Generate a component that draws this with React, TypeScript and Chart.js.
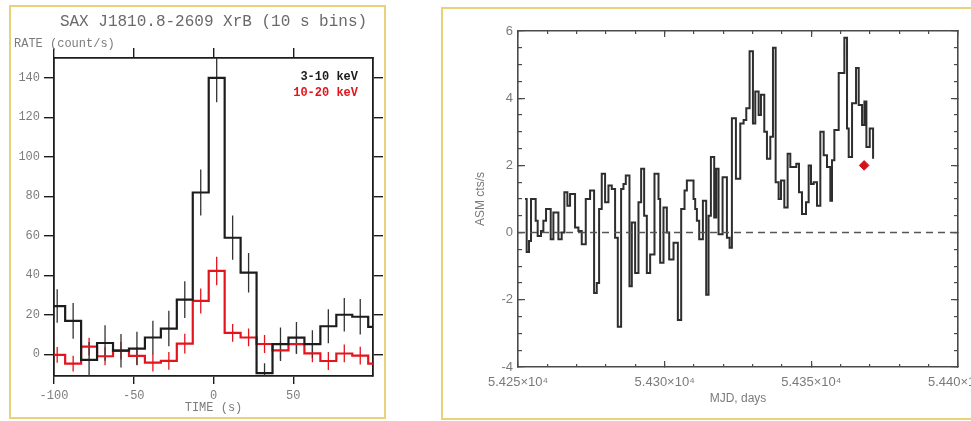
import React, { useEffect, useRef } from 'react';
import { Chart, registerables } from 'chart.js';

Chart.register(...registerables);

// ---------------- Left panel: SAX burst light curve ----------------
const leftTitle = 'SAX J1810.8-2609 XrB (10 s bins)';
const leftYLabel = 'RATE (count/s)';
const leftXLabel = 'TIME (s)';
const hardLabel = '3-10 keV';
const softLabel = '10-20 keV';
const binWidth = 10;
const timeCenters = [-98, -88, -78, -68, -58, -48, -38, -28, -18, -8, 2, 12, 22, 32, 42, 52, 62, 72, 82, 92, 102];
const hardRate = [24.4, 16.9, -2.8, 5.7, 1.8, 2.9, 8.5, 13.0, 27.7, 81.9, 139.9, 59.0, 41.3, -9.5, 5.1, 8.4, 5.1, 14.2, 20.0, 19.0, 13.9];
const hardErr = [8.5, 9, 9, 9, 8.5, 8.5, 8.5, 9, 9.3, 11.7, 12.3, 11.2, 10, 5, 8.5, 8, 7, 8.6, 8.5, 9, 9];
const softRate = [-0.3, -4.7, 3.9, -1.0, 1.8, -0.8, -4.2, -3.3, 5.4, 27.0, 42.2, 10.8, 8.5, 5.2, 2.0, 5.1, 0.5, -3.4, 0.4, -0.7, -4.7];
const softErr = [4, 4, 4.5, 4.5, 4.5, 4.5, 4.5, 4.5, 5, 6.3, 7.2, 4.5, 4.5, 4.5, 4.5, 5, 4.5, 4.5, 4.5, 4.5, 4.5];
const timeTicks = [-100, -50, 0, 50];
const rateTicks = [0, 20, 40, 60, 80, 100, 120, 140];
const timeMin = -100;
const timeMax = 100;
const rateMin = -11;
const rateMax = 150;

// ---------------- Right panel: RXTE/ASM light curve ----------------
const asmYLabel = 'ASM cts/s';
const asmXLabel = 'MJD, days';
const asmMjd = [
  54252.4, 54252.96, 54253.75, 54254.44, 54256.03, 54256.71, 54257.85, 54258.65, 54259.56, 54261.15,
  54262.06, 54263.77, 54264.9, 54265.81, 54266.84, 54267.75, 54269.45, 54270.6, 54271.73, 54273.1,
  54274.57, 54275.94, 54276.85, 54277.65, 54278.55, 54279.69, 54280.83, 54281.97, 54283.1, 54284.02,
  54285.15, 54285.95, 54286.75, 54288.0, 54288.8, 54289.93, 54291.07, 54291.98, 54293.0, 54293.92,
  54295.05, 54296.53, 54297.9, 54298.46, 54299.6, 54300.74, 54301.54, 54303.02, 54304.5, 54305.63,
  54306.77, 54307.57, 54309.84, 54310.41, 54310.98, 54311.77, 54313.03, 54314.16, 54314.96, 54315.76,
  54316.89, 54317.58, 54318.37, 54319.74, 54321.22, 54322.13, 54322.92, 54324.29, 54325.77, 54326.91,
  54327.82, 54328.95, 54330.09, 54330.89, 54332.03, 54332.82, 54333.96, 54334.87, 54336.01, 54336.92,
  54337.83, 54338.85, 54339.65, 54340.79, 54341.92, 54342.83, 54344.88, 54345.79, 54346.81, 54348.18,
  54349.09, 54349.89, 54350.8, 54351.93, 54353.07, 54354.21, 54355.35, 54356.48, 54357.05, 54357.85,
  54359.33, 54361.26, 54362.17, 54362.74, 54363.88, 54365.24, 54366.15, 54367.29, 54368.09, 54368.77,
  54369.91, 54371.05,
];
const asmRate = [
  1.0, -0.58, -0.25, 1.0, 0.35, -0.1, 0.05, 0.35, 0.7, -0.2,
  0.6, -0.2, 0.0, 1.2, 0.8, 1.15, 0.15, 0.05, -0.35, 1.0,
  1.25, -1.8, -1.5, 0.7, 1.75, 0.9, 1.4, 1.3, -0.15, -2.8,
  1.3, 1.45, 1.7, -1.6, 0.3, -1.2, 0.9, 1.9, 0.5, -1.2,
  -0.65, 1.75, 1.0, -0.9, 0.75, 0.0, -0.8, -0.3, -2.6, 0.7,
  1.25, 1.55, 1.0, 0.7, 0.35, -0.2, 0.95, -1.85, 0.5, 2.25,
  0.45, 1.9, -0.05, 1.65, -0.15, -0.45, 3.4, 1.6, 3.25, 3.35,
  3.7, 5.4, 3.25, 4.2, 3.5, 4.1, 3.0, 2.2, 2.85, 5.5,
  1.5, 1.0, 1.55, 0.75, 2.35, 1.95, 2.05, 1.2, 0.55, 0.9,
  2.0, 1.45, 1.5, 0.8, 3.0, 2.3, 1.95, 0.95, 2.15, 3.05,
  4.75, 5.8, 3.1, 2.25, 3.85, 4.9, 3.8, 3.2, 3.9, 2.55,
  3.1, 2.2,
];
const markerMjd = [54368];
const markerRate = [2.0];
const mjdMin = 54250;
const mjdMax = 54400;
const asmMin = -4;
const asmMax = 6;
const mjdTicks = [54250, 54300, 54350, 54400];
const mjdTickLabels = ['5.425×10⁴', '5.430×10⁴', '5.435×10⁴', '5.440×10⁴'];
const asmTicks = [-4, -2, 0, 2, 4, 6];

// ---------------- helpers ----------------
const monoFamily = "'Liberation Mono', 'DejaVu Sans Mono', monospace";
const sansFamily = "'Liberation Sans', Arial, sans-serif";

const setTicks = (vals: number[]) => (s: any) => {
  s.ticks = vals.map((v) => ({ value: v }));
};
const fixH = (h: number) => (s: any) => {
  s.height = h;
  s.paddingLeft = 0;
  s.paddingRight = 0;
  s.paddingTop = 0;
  s.paddingBottom = 0;
};
const fixW = (w: number) => (s: any) => {
  s.width = w;
  s.paddingLeft = 0;
  s.paddingRight = 0;
  s.paddingTop = 0;
  s.paddingBottom = 0;
};

const stepPoints = (centers: number[], values: number[]) => {
  const pts = centers.map((c, i) => ({ x: c - binWidth / 2, y: values[i] }));
  const last = centers.length - 1;
  pts.push({ x: centers[last] + binWidth / 2, y: values[last] });
  return pts;
};
const errorPoints = (centers: number[], values: number[], errs: number[]) =>
  centers.flatMap((c, i) => [
    { x: c, y: values[i] - errs[i] },
    { x: c, y: values[i] + errs[i] },
    { x: c, y: null as any },
  ]);

const insideLegend = {
  id: 'insideLegend',
  afterDatasetsDraw(chart: any) {
    const { ctx, chartArea } = chart;
    const items = chart.data.datasets.filter((d: any) => d.label);
    ctx.save();
    ctx.font = `bold 12px ${monoFamily}`;
    ctx.textAlign = 'right';
    ctx.textBaseline = 'middle';
    items.forEach((d: any, i: number) => {
      ctx.fillStyle = d.borderColor;
      ctx.fillText(d.label, chartArea.right - 15, chartArea.top + 19 + i * 15.6);
    });
    ctx.restore();
  },
};

const ink = '#1c1c1c';
const redInk = '#e4141c';
const leftText = '#7c7c7c';

function LeftPanel() {
  const ref = useRef<HTMLCanvasElement>(null);
  useEffect(() => {
    const grid = (len: number) => ({ display: true, drawOnChartArea: false, drawTicks: true, tickLength: len, color: ink, lineWidth: 1.4 });
    const border = { display: true, color: ink, width: 1.8 };
    const tickFont = { family: monoFamily, size: 12 };
    const chart = new Chart(ref.current as HTMLCanvasElement, {
      type: 'line',
      data: {
        datasets: [
          { label: hardLabel, data: stepPoints(timeCenters, hardRate), borderColor: ink, borderWidth: 2.2, stepped: true, pointRadius: 0, xAxisID: 'x', yAxisID: 'y' } as any,
          { label: softLabel, data: stepPoints(timeCenters, softRate), borderColor: redInk, borderWidth: 2.2, stepped: true, pointRadius: 0, xAxisID: 'x', yAxisID: 'y' } as any,
          { data: errorPoints(timeCenters, hardRate, hardErr), borderColor: '#333', borderWidth: 1.3, pointRadius: 0, spanGaps: false, xAxisID: 'x', yAxisID: 'y' } as any,
          { data: errorPoints(timeCenters, softRate, softErr), borderColor: redInk, borderWidth: 1.3, pointRadius: 0, spanGaps: false, xAxisID: 'x', yAxisID: 'y' } as any,
        ],
      },
      options: {
        responsive: false,
        animation: false,
        events: [],
        layout: { padding: { left: 14, right: 0, top: 0, bottom: 0 } },
        plugins: {
          legend: { display: false },
          tooltip: { enabled: false },
          title: { display: true, text: leftTitle, color: '#6a6a6a', font: { family: monoFamily, size: 16, weight: 'normal' }, padding: { top: 12, bottom: 0 } },
          subtitle: { display: true, text: leftYLabel, align: 'start', color: leftText, font: { family: monoFamily, size: 12, weight: 'normal' }, padding: { top: 5, bottom: 0 } },
        },
        scales: {
          x: {
            type: 'linear', position: 'bottom', min: timeMin, max: timeMax,
            afterBuildTicks: setTicks(timeTicks), afterFit: fixH(45),
            grid: grid(8), border,
            ticks: { color: leftText, font: tickFont, padding: 5, maxRotation: 0, autoSkip: false },
            title: { display: true, text: leftXLabel, color: leftText, font: tickFont, padding: { top: 0, bottom: 6 } },
          },
          xTop: {
            type: 'linear', position: 'top', min: timeMin, max: timeMax,
            afterBuildTicks: setTicks(timeTicks), afterFit: fixH(7.4),
            grid: grid(10), border, ticks: { display: false },
          },
          y: {
            type: 'linear', position: 'left', min: rateMin, max: rateMax,
            afterBuildTicks: setTicks(rateTicks), afterFit: fixW(40),
            grid: grid(10), border,
            ticks: { color: leftText, font: tickFont, padding: 4 },
          },
          yRight: {
            type: 'linear', position: 'right', min: rateMin, max: rateMax,
            afterBuildTicks: setTicks(rateTicks), afterFit: fixW(40),
            grid: grid(10), border, ticks: { display: false },
          },
        } as any,
      } as any,
      plugins: [insideLegend],
    });
    return () => chart.destroy();
  }, []);
  return <canvas ref={ref} width={413} height={421} style={{ position: 'absolute', left: 0, top: 0, width: 413, height: 421 }} />;
}

const rInk = '#4a4a4a';
const rText = '#7a7a7a';

function RightPanel() {
  const ref = useRef<HTMLCanvasElement>(null);
  useEffect(() => {
    const grid = (len: number) => ({ display: true, drawOnChartArea: false, drawTicks: true, tickLength: -len, color: rInk, lineWidth: 1.2 });
    const border = { display: true, color: rInk, width: 1.6 };
    const noBorder = { display: false };
    const chart = new Chart(ref.current as HTMLCanvasElement, {
      type: 'line',
      data: {
        datasets: [
          {
            data: [{ x: mjdMin, y: 0 }, { x: mjdMax, y: 0 }],
            borderColor: '#555', borderWidth: 1.5, borderDash: [7, 5], pointRadius: 0, xAxisID: 'x', yAxisID: 'y',
          } as any,
          {
            data: asmMjd.map((m, i) => ({ x: m, y: asmRate[i] })),
            borderColor: '#2e2e2e', borderWidth: 2, stepped: true, pointRadius: 0, xAxisID: 'x', yAxisID: 'y',
          } as any,
          {
            data: markerMjd.map((m, i) => ({ x: m, y: markerRate[i] })),
            showLine: false, pointStyle: 'rectRot', pointRadius: 4.8, backgroundColor: '#d3121c', borderColor: '#d3121c', borderWidth: 1, xAxisID: 'x', yAxisID: 'y',
          } as any,
        ],
      },
      options: {
        responsive: false,
        animation: false,
        events: [],
        layout: { padding: 0 },
        plugins: { legend: { display: false }, tooltip: { enabled: false }, title: { display: false } },
        scales: {
          x: {
            type: 'linear', position: 'bottom', weight: 1, min: mjdMin, max: mjdMax,
            afterBuildTicks: setTicks(mjdTicks), afterFit: fixH(54),
            grid: grid(6), border,
            ticks: { callback: (_v: any, i: number) => mjdTickLabels[i], color: rText, font: { family: sansFamily, size: 13 }, padding: 14, maxRotation: 0, autoSkip: false },
            title: { display: true, text: asmXLabel, color: rText, font: { family: sansFamily, size: 12 }, padding: { top: 0, bottom: 15 } },
          },
          xMinor: {
            type: 'linear', position: 'bottom', weight: 0, min: mjdMin, max: mjdMax,
            afterFit: fixH(0), grid: grid(3), border: noBorder, ticks: { display: false, stepSize: 10 },
          },
          xTop: {
            type: 'linear', position: 'top', weight: 1, min: mjdMin, max: mjdMax,
            afterBuildTicks: setTicks(mjdTicks), afterFit: fixH(31),
            grid: grid(6), border, ticks: { display: false },
          },
          xTopMinor: {
            type: 'linear', position: 'top', weight: 0, min: mjdMin, max: mjdMax,
            afterFit: fixH(0), grid: grid(3), border: noBorder, ticks: { display: false, stepSize: 10 },
          },
          y: {
            type: 'linear', position: 'left', weight: 1, min: asmMin, max: asmMax,
            afterBuildTicks: setTicks(asmTicks), afterFit: fixW(76),
            grid: grid(7), border,
            ticks: { color: rText, font: { family: sansFamily, size: 13 }, padding: 12 },
            title: { display: true, text: asmYLabel, color: rText, font: { family: sansFamily, size: 12 }, padding: { top: 31, bottom: 0 } },
          },
          yMinor: {
            type: 'linear', position: 'left', weight: 0, min: asmMin, max: asmMax,
            afterFit: fixW(0), grid: grid(4), border: noBorder, ticks: { display: false, stepSize: 0.5 },
          },
          yRight: {
            type: 'linear', position: 'right', weight: 1, min: asmMin, max: asmMax,
            afterBuildTicks: setTicks(asmTicks), afterFit: fixW(13),
            grid: grid(7), border, ticks: { display: false },
          },
          yRightMinor: {
            type: 'linear', position: 'right', weight: 0, min: asmMin, max: asmMax,
            afterFit: fixW(0), grid: grid(4), border: noBorder, ticks: { display: false, stepSize: 0.5 },
          },
        } as any,
      } as any,
    });
    return () => chart.destroy();
  }, []);
  return <canvas ref={ref} width={529} height={421} style={{ position: 'absolute', left: 442, top: 0, width: 529, height: 421 }} />;
}

const frameColor = '#e8d27c';

export default function App() {
  return (
    <div style={{ position: 'fixed', left: 0, top: 0, width: 971, height: 421, background: '#ffffff', overflow: 'hidden' }}>
      <LeftPanel />
      <RightPanel />
      <div style={{ position: 'absolute', left: 9, top: 5, width: 377, height: 414, border: `2.5px solid ${frameColor}`, boxSizing: 'border-box', pointerEvents: 'none' }} />
      <div style={{ position: 'absolute', left: 441, top: 7, width: 560, height: 413, border: `2.5px solid ${frameColor}`, boxSizing: 'border-box', pointerEvents: 'none' }} />
    </div>
  );
}
